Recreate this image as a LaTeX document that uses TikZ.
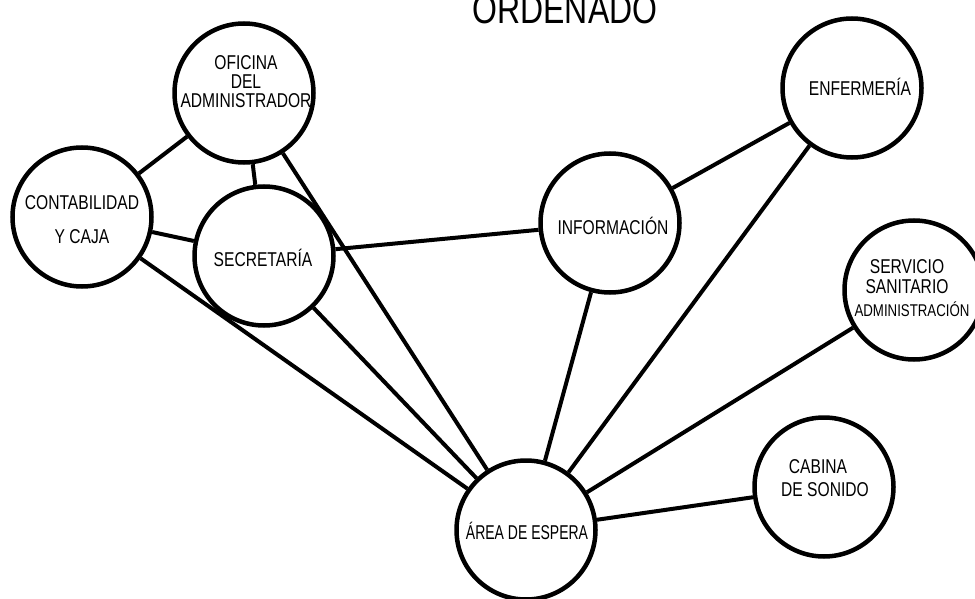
\documentclass[tikz,border=0pt]{standalone}
\usepackage{fontspec}
\setmainfont[FakeStretch=0.78]{Liberation Sans}
\newfontfamily\narrowfont[FakeStretch=0.7]{Liberation Sans}
\begin{document}
\begin{tikzpicture}[x=1pt,y=-1pt,
  room/.style={circle,draw,line width=4.5pt,minimum size=139pt,inner sep=0pt,fill=white},
  lbl/.style={align=center,font=\fontsize{20}{22}\selectfont,inner sep=0pt},
  link/.style={line width=4pt}]
\useasboundingbox (0,0) rectangle (975,599);
\node[anchor=base,font=\fontsize{41}{44}\selectfont,inner sep=0pt] (title) at (565,24) {ORDENADO};
% circles
\node[room] (ofi) at (244,93) {};
\node[room] (con) at (82,217) {};
\node[room] (sec) at (264,256) {};
\node[room] (inf) at (610,223) {};
\node[room] (enf) at (852,88) {};
\node[room] (ser) at (914,290) {};
\node[room] (cab) at (824,487) {};
\node[room] (are) at (526,530) {};
% links
\draw[link] (con) -- (ofi);
\draw[link] (con) -- (sec);
\draw[link] (con) -- (are);
\draw[link] (ofi) -- (sec);
\draw[link] (ofi) -- (are);
\draw[link] (sec) -- (inf);
\draw[link] (sec) -- (are);
\draw[link] (inf) -- (are);
\draw[link] (inf) -- (enf);
\draw[link] (enf) -- (are);
\draw[link] (ser) -- (are);
\draw[link] (cab) -- (are);
% labels
\node[lbl,font=\fontsize{20}{19}\selectfont] (tofi) at (246,82) {OFICINA\\DEL\\ADMINISTRADOR};
\node[lbl,font=\fontsize{20}{34}\selectfont] (tcon) at (82,220) {CONTABILIDAD\\Y CAJA};
\node[lbl] (tsec) at (263,258) {SECRETARÍA};
\node[lbl] (tinf) at (613,226) {INFORMACIÓN};
\node[lbl] (tenf) at (860,87) {ENFERMERÍA};
\node[lbl,font=\fontsize{20}{20}\selectfont] (tser) at (907,277) {SERVICIO\\SANITARIO};
\node[lbl,font=\fontsize{17}{18}\selectfont] (tser2) at (912,309) {ADMINISTRACIÓN};
\node[lbl] (tcab) at (818,467) {CABINA};
\node[lbl] (tcab2) at (825,490) {DE SONIDO};
\node[lbl,font=\narrowfont\fontsize{20}{22}\selectfont] (tare) at (527,531) {ÁREA DE ESPERA};
\end{tikzpicture}
\end{document}
